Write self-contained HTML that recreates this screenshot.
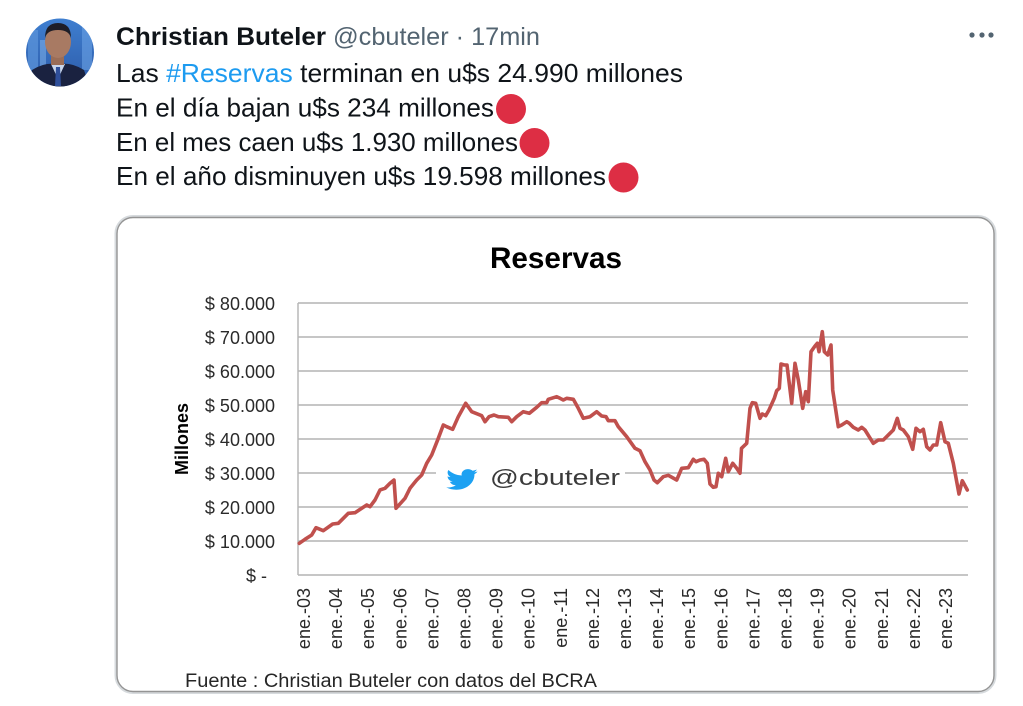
<!DOCTYPE html>
<html>
<head>
<meta charset="utf-8">
<style>
  html, body { margin:0; padding:0; background:#ffffff; }
  body { width:1023px; height:706px; overflow:hidden; }
  svg { display:block; }
  .tw { font-family:"Liberation Sans", Arial, sans-serif; }
</style>
</head>
<body>
<svg width="1023" height="706" viewBox="0 0 1023 706" xmlns="http://www.w3.org/2000/svg" class="tw">
  <defs>
    <clipPath id="av"><circle cx="60" cy="52.5" r="34"/></clipPath>
    <linearGradient id="sky" x1="0" y1="0" x2="0" y2="1">
      <stop offset="0" stop-color="#3f7fd0"/>
      <stop offset="1" stop-color="#2c5aa8"/>
    </linearGradient>
  </defs>

  <!-- Avatar -->
  <g clip-path="url(#av)">
    <rect x="26" y="18" width="68" height="70" fill="url(#sky)"/>
    <rect x="28" y="30" width="10" height="40" fill="#5d95dc" opacity="0.7"/>
    <rect x="82" y="26" width="10" height="44" fill="#6aa2e4" opacity="0.6"/>
    <rect x="40" y="40" width="6" height="30" fill="#86b8ee" opacity="0.5"/>
    <path d="M28 88 L32 70 Q44 62 58 64 Q72 62 84 70 L90 88 Z" fill="#1a2240"/>
    <path d="M51 64 L58 79 L65 64 Z" fill="#c9d6ea"/>
    <path d="M56 67 L60 67 L61 86 L55 86 Z" fill="#2f4f9a"/>
    <rect x="51" y="52" width="13" height="13" fill="#9a6d57"/>
    <ellipse cx="58" cy="42" rx="13" ry="16" fill="#a87a63"/>
    <path d="M45 38 Q45 23 58 23 Q71 23 71 38 Q69 30 58 30 Q47 30 45 38 Z" fill="#1e1e28"/>
  </g>

  <!-- Header -->
  <text x="116" y="45" font-size="25" font-weight="bold" fill="#0f1419" textLength="210" lengthAdjust="spacingAndGlyphs">Christian Buteler</text>
  <text x="333" y="45" font-size="25" fill="#536471" textLength="207" lengthAdjust="spacingAndGlyphs">@cbuteler · 17min</text>
  <circle cx="972" cy="35" r="2.6" fill="#536471"/>
  <circle cx="982" cy="35" r="2.6" fill="#536471"/>
  <circle cx="991" cy="35" r="2.6" fill="#536471"/>

  <!-- Body -->
  <text x="116" y="82" font-size="26" fill="#0f1419" textLength="567" lengthAdjust="spacingAndGlyphs">Las <tspan fill="#1d9bf0">#Reservas</tspan> terminan en u$s 24.990 millones</text>
  <text x="116" y="116.5" font-size="26" fill="#0f1419" textLength="378" lengthAdjust="spacingAndGlyphs">En el día bajan u$s 234 millones</text>
  <circle cx="511" cy="109" r="15" fill="#dd2e44"/>
  <text x="116" y="150.8" font-size="26" fill="#0f1419" textLength="402" lengthAdjust="spacingAndGlyphs">En el mes caen u$s 1.930 millones</text>
  <circle cx="534.5" cy="143" r="15" fill="#dd2e44"/>
  <text x="116" y="185" font-size="26" fill="#0f1419" textLength="490" lengthAdjust="spacingAndGlyphs">En el año disminuyen u$s 19.598 millones</text>
  <circle cx="623.5" cy="177.5" r="15" fill="#dd2e44"/>

  <!-- Card -->
  <rect x="116" y="216.5" width="879" height="476" rx="17" ry="17" fill="#ffffff" stroke="#d6dadd" stroke-width="3"/>
  <rect x="117" y="217.5" width="877" height="474" rx="16" ry="16" fill="none" stroke="#949494" stroke-width="1.4"/>

  <!-- Title -->
  <text x="490" y="268" font-size="30" font-weight="bold" fill="#000" textLength="132" lengthAdjust="spacingAndGlyphs">Reservas</text>

  <!-- Gridlines -->
  <g stroke="#b4b4b4" stroke-width="1.4">
    <line x1="298" y1="303" x2="968" y2="303"/>
    <line x1="298" y1="337" x2="968" y2="337"/>
    <line x1="298" y1="371" x2="968" y2="371"/>
    <line x1="298" y1="405" x2="968" y2="405"/>
    <line x1="298" y1="439" x2="968" y2="439"/>
    <line x1="298" y1="473" x2="968" y2="473"/>
    <line x1="298" y1="507" x2="968" y2="507"/>
    <line x1="298" y1="541" x2="968" y2="541"/>
    <line x1="298" y1="575" x2="968" y2="575"/>
    <line x1="298" y1="303" x2="298" y2="575"/>
  </g>

  <!-- Y labels -->
  <g font-size="18" fill="#2a2a2a" text-anchor="end">
    <text x="275" y="310">$ 80.000</text>
    <text x="275" y="344">$ 70.000</text>
    <text x="275" y="378">$ 60.000</text>
    <text x="275" y="412">$ 50.000</text>
    <text x="275" y="446">$ 40.000</text>
    <text x="275" y="480">$ 30.000</text>
    <text x="275" y="514">$ 20.000</text>
    <text x="275" y="548">$ 10.000</text>
  </g>
  <text x="246" y="582" font-size="18" fill="#2a2a2a">$ -</text>

  <!-- Y axis title -->
  <text transform="translate(188,439) rotate(-90)" text-anchor="middle" font-size="18" font-weight="bold" fill="#000" textLength="72" lengthAdjust="spacingAndGlyphs">Millones</text>

  <!-- X labels -->
  <g font-size="18" fill="#2a2a2a" text-anchor="end">
    <text transform="translate(310,588) rotate(-90)">ene.-03</text>
    <text transform="translate(342.1,588) rotate(-90)">ene.-04</text>
    <text transform="translate(374.2,588) rotate(-90)">ene.-05</text>
    <text transform="translate(406.3,588) rotate(-90)">ene.-06</text>
    <text transform="translate(438.4,588) rotate(-90)">ene.-07</text>
    <text transform="translate(470.5,588) rotate(-90)">ene.-08</text>
    <text transform="translate(502.6,588) rotate(-90)">ene.-09</text>
    <text transform="translate(534.7,588) rotate(-90)">ene.-10</text>
    <text transform="translate(566.8,588) rotate(-90)">ene.-11</text>
    <text transform="translate(598.9,588) rotate(-90)">ene.-12</text>
    <text transform="translate(631,588) rotate(-90)">ene.-13</text>
    <text transform="translate(663.1,588) rotate(-90)">ene.-14</text>
    <text transform="translate(695.2,588) rotate(-90)">ene.-15</text>
    <text transform="translate(727.3,588) rotate(-90)">ene.-16</text>
    <text transform="translate(759.4,588) rotate(-90)">ene.-17</text>
    <text transform="translate(791.5,588) rotate(-90)">ene.-18</text>
    <text transform="translate(823.6,588) rotate(-90)">ene.-19</text>
    <text transform="translate(855.7,588) rotate(-90)">ene.-20</text>
    <text transform="translate(887.8,588) rotate(-90)">ene.-21</text>
    <text transform="translate(919.9,588) rotate(-90)">ene.-22</text>
    <text transform="translate(952,588) rotate(-90)">ene.-23</text>
  </g>

  <!-- Watermark -->
  <rect x="436" y="462" width="189" height="30" fill="#ffffff"/>
  <path transform="translate(445,466) scale(1.38,1.12)" fill="#1da1f2" d="M23.643 4.937c-.835.37-1.732.62-2.675.733.962-.576 1.7-1.49 2.048-2.578-.9.534-1.897.922-2.958 1.13-.85-.904-2.06-1.47-3.4-1.47-2.572 0-4.658 2.086-4.658 4.66 0 .364.042.718.12 1.06-3.873-.195-7.304-2.05-9.602-4.868-.4.69-.63 1.49-.63 2.342 0 1.616.823 3.043 2.072 3.878-.764-.025-1.482-.234-2.11-.583v.06c0 2.257 1.605 4.14 3.737 4.568-.392.106-.803.162-1.227.162-.3 0-.593-.028-.877-.082.593 1.85 2.313 3.198 4.352 3.234-1.595 1.25-3.604 1.995-5.786 1.995-.376 0-.747-.022-1.112-.065 2.062 1.323 4.51 2.093 7.14 2.093 8.57 0 13.255-7.098 13.255-13.254 0-.2-.005-.402-.014-.602.91-.658 1.7-1.477 2.323-2.41z"/>
  <text x="490" y="485" font-size="22" fill="#3a3a3a" textLength="130" lengthAdjust="spacingAndGlyphs">@cbuteler</text>

  <!-- Data line -->
  <polyline fill="none" stroke="#c0504d" stroke-width="3.6" stroke-linejoin="round" stroke-linecap="round" points="
299.3,543.3 305,539.3 311.7,535 316,527.7 323.3,530.7 332.7,524 338.3,523.3 348.3,513.3 355,512.7 366.7,505 370,506.7 375,500 380,490 385,488.3 390,483.3 394,480 396,508.3 405,498.3 410,488.3 416.7,480 421.7,475 426.7,463.3 431.7,455 438.3,438.3 443.3,425 446.7,426.7 452.7,429.3 458.3,416.7 465.7,403.3 471.7,411.7 478.3,414.3 481.7,415.7 485,421.7 489,416.7 494,415 498.3,416.7 508.3,417.3 511.7,421.7 516.7,416.7 523.3,411.7 529.3,413.3 536.7,407.3 541.7,402.7 546.7,402.7 548.3,399.3 556.7,396.7 560,398.3 563.3,400 566.7,398.3 573.3,399.3 578.3,408.3 583.3,418.3 590,416.7 596.7,411.7 601.7,416 606,416.7 608.3,420.7 615,420.7 618.3,426.7 626.7,436.7 635,448.3 640,450.7 645,461.7 650,470 654,480 657.3,482.7 663.3,476.7 668.3,475.3 676.7,480 681.7,468.3 688.3,467.7 693.3,459.3 696,461.7 700,460 704,459.3 707.3,463.3 710,484 713.3,487.3 716,486.7 718.3,473.3 721.7,476.7 725.7,458.3 728.3,471.7 732.7,463.3 736.7,468.3 740,473.3 741.5,448.3 746.7,443.3 750,408.3 752.3,402.7 755.7,403.3 760,418.3 762.3,414 765.7,415.7 769,410 774.3,398.3 776.7,390.7 779.3,388.3 781,364 784.3,365 787,365 791.7,403.3 795,363.3 798.3,380 802.7,408.3 805.7,391.7 808.3,401.7 811,351.7 815,346 817.3,343.3 819,351.7 822.3,331.7 824.3,351.7 827.7,355 831,345 832.7,390 838.3,426.7 841.7,425 846.7,421.7 849.3,423.3 853.3,427.3 858.3,430 861.7,427.3 865,430 873.3,443.3 878.3,440 883.3,440 890,433.3 893.3,430 897.3,418.3 900,428.3 903.3,430 908.3,436.7 912.7,449.3 916,428.3 920,431.7 923.3,429.3 926.7,446.7 930,450 933.3,445 936.7,445 940.7,422.7 945,441.7 948.3,443.3 953.3,463.3 959,494 962.3,480.7 967.3,490"/>

  <!-- Source -->
  <text x="185" y="687" font-size="19" fill="#262626" textLength="412" lengthAdjust="spacingAndGlyphs">Fuente : Christian Buteler con datos del BCRA</text>
</svg>
</body>
</html>
